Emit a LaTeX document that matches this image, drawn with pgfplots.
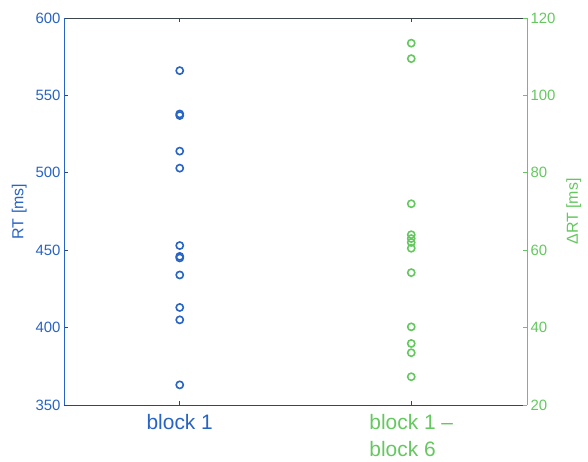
\documentclass[border=0pt]{standalone}
\usepackage{pgfplots}
\pgfplotsset{compat=1.18}
\usepackage{fontspec}
\setmainfont{Liberation Sans}
\definecolor{cblue}{RGB}{40,100,195}
\definecolor{cgreen}{RGB}{100,200,95}
\definecolor{cgray}{RGB}{60,70,75}
\begin{document}
\begin{tikzpicture}
\path[use as bounding box] (-64bp,-57bp) rectangle (524bp,405bp);
\begin{axis}[
  at={(0,0)}, anchor=south west,
  scale only axis, width=463bp, height=387bp,
  xmin=0.5, xmax=2.5, ymin=350, ymax=600,
  axis y line*=left,
  xtick={1,2},
  xticklabels={\textcolor{cblue}{block 1}, {\textcolor{cgreen}{block 1 --}\\\textcolor{cgreen}{block 6}}},
  xticklabel style={align=left, font=\fontsize{21}{27}\selectfont, anchor=north, yshift=-6bp},
  ytick={350,400,...,600},
  yticklabel style={font=\fontsize{15}{18}\selectfont, text=cblue},
  /pgf/number format/assume math mode=true,
  tick align=inside,
  major tick length=4bp,
  xtick pos=both,
  x axis line style={cgray, line width=0.8bp},
  y axis line style={cblue, line width=0.8bp},
  every tick/.style={cgray, line width=0.8bp},
  ylabel={RT [ms]},
  ylabel style={text=cblue, font=\fontsize{16}{18}\selectfont, yshift=2bp},
]
\addplot[only marks, mark=o, mark size=3.6bp, cblue, line width=1.6bp] coordinates {
(1,566) (1,538) (1,537) (1,514) (1,503) (1,453) (1,446) (1,445) (1,434) (1,413) (1,405) (1,363)
};
\end{axis}
\begin{axis}[
  at={(0,0)}, anchor=south west,
  scale only axis, width=463bp, height=387bp,
  xmin=0.5, xmax=2.5, ymin=20, ymax=120,
  axis y line*=right,
  axis x line=none,
  ytick={20,40,...,120},
  yticklabel style={font=\fontsize{15}{18}\selectfont, text=cgreen},
  /pgf/number format/assume math mode=true,
  tick align=inside,
  major tick length=4bp,
  y axis line style={cgreen, line width=0.8bp},
  every tick/.style={cgreen, line width=0.8bp},
  ylabel={ΔRT [ms]},
  ylabel style={text=cgreen, font=\fontsize{16}{18}\selectfont, yshift=-4bp},
]
\addplot[only marks, mark=o, mark size=3.6bp, cgreen, line width=1.6bp] coordinates {
(2,113.5) (2,109.5) (2,72) (2,64) (2,63) (2,62) (2,60.5) (2,54.2) (2,40.2) (2,35.9) (2,33.5) (2,27.3)
};
\end{axis}
\end{tikzpicture}
\end{document}
